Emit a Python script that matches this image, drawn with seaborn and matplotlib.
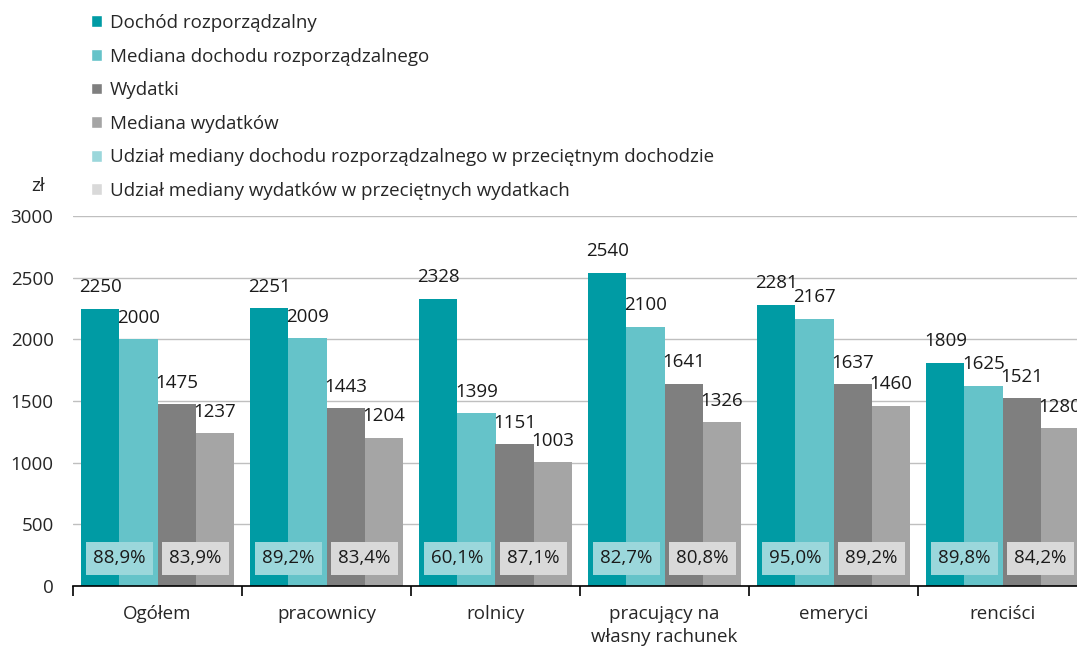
import matplotlib
matplotlib.use("Agg")
import matplotlib.pyplot as plt
import seaborn as sns
import pandas as pd
from matplotlib.patches import Patch

# Data
categories = ['Ogółem', 'pracownicy', 'rolnicy', 'pracujący na\nwłasny rachunek', 'emeryci', 'renciści']
series = ['Dochód rozporządzalny', 'Mediana dochodu rozporządzalnego', 'Wydatki', 'Mediana wydatków']
dochod = [2250, 2251, 2328, 2540, 2281, 1809]
mediana_dochodu = [2000, 2009, 1399, 2100, 2167, 1625]
wydatki = [1475, 1443, 1151, 1641, 1637, 1521]
mediana_wydatkow = [1237, 1204, 1003, 1326, 1460, 1280]
udzial_dochodu = ['88,9%', '89,2%', '60,1%', '82,7%', '95,0%', '89,8%']
udzial_wydatkow = ['83,9%', '83,4%', '87,1%', '80,8%', '89,2%', '84,2%']
share_labels = ['Udział mediany dochodu rozporządzalnego w przeciętnym dochodzie',
                'Udział mediany wydatków w przeciętnych wydatkach']

colors = ['#009BA4', '#65C3C9', '#7F7F7F', '#A5A5A5']
share_colors = ['#9BD7DB', '#D9D9D9']

df = pd.DataFrame({
    'kategoria': categories * 4,
    'seria': [s for s in series for _ in categories],
    'wartosc': dochod + mediana_dochodu + wydatki + mediana_wydatkow,
})

sns.set_style('white')
plt.rcParams['font.family'] = ['Open Sans', 'DejaVu Sans']
fs = 13.5

fig = plt.figure(figsize=(10.77, 6.48), dpi=100)
ax = fig.add_axes([73 / 1077, 62 / 648, 1014 / 1077, 370 / 648])

sns.barplot(data=df, x='kategoria', y='wartosc', hue='seria', order=categories,
            hue_order=series, palette=colors, width=0.9, gap=0, saturation=1,
            edgecolor='none', linewidth=0, legend=False, ax=ax, zorder=2)

for cont in ax.containers:
    ax.bar_label(cont, fontsize=fs, padding=9, color='#1a1a1a')

# share boxes
bw = 0.9 / 4
for i in range(len(categories)):
    for j, (vals, c) in enumerate([(udzial_dochodu, share_colors[0]), (udzial_wydatkow, share_colors[1])]):
        xc = i - 0.45 + bw + j * 2 * bw
        ax.text(xc, 225, vals[i], ha='center', va='center', fontsize=fs, color='#1a1a1a', zorder=5,
                bbox=dict(boxstyle='square,pad=0.4', fc=c, ec='none'))

ax.set_xlim(-0.5, len(categories) - 0.5)
ax.set_ylim(0, 3000)
ax.set_yticks(range(0, 3001, 500))
ax.yaxis.grid(True, color='#BFBFBF', linewidth=1)
ax.set_axisbelow(True)
ax.set_xlabel('')
ax.set_ylabel('')
for s in ['top', 'right', 'left']:
    ax.spines[s].set_visible(False)
ax.spines['bottom'].set_color('black')
ax.spines['bottom'].set_linewidth(1.2)

ax.set_xticks(range(len(categories)))
ax.set_xticklabels(categories, fontsize=fs, linespacing=1.3)
ax.set_xticks([i - 0.5 for i in range(len(categories) + 1)], minor=True)
ax.tick_params(axis='x', which='major', length=0, pad=14)
ax.tick_params(axis='x', which='minor', length=7, width=1.2, direction='out', color='black', bottom=True)
ax.tick_params(axis='y', length=0, pad=14, labelsize=fs)

fig.text(38 / 1077, 1 - 186 / 648, 'zł', fontsize=fs, ha='center', va='center')

handles = [Patch(facecolor=c) for c in colors + share_colors]
fig.legend(handles, series + share_labels, loc='upper left', bbox_to_anchor=(91 / 1077, 1 - 14 / 648),
           frameon=False, fontsize=fs, handlelength=0.6, handleheight=0.6, handletextpad=0.4,
           labelspacing=0.83, borderpad=0, borderaxespad=0)

fig.savefig('out.png', dpi=100)
